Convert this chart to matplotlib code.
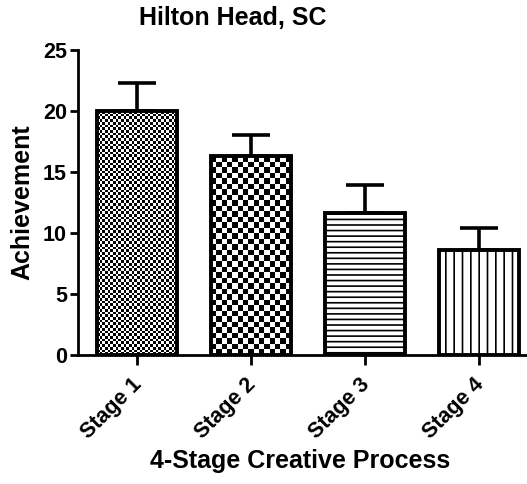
import numpy as np
import matplotlib
matplotlib.use("Agg")
import matplotlib.pyplot as plt
import matplotlib.transforms as mtransforms

categories = ["Stage 1", "Stage 2", "Stage 3", "Stage 4"]
means = [20.0, 16.3, 11.6, 8.6]
errors = [2.3, 1.7, 2.3, 1.8]
yticks = [0, 5, 10, 15, 20, 25]

plt.rcParams['font.family'] = ['Liberation Sans', 'DejaVu Sans']
plt.rcParams['font.weight'] = 'bold'
plt.rcParams['hatch.linewidth'] = 1.2

W, H = 527, 484
fig = plt.figure(figsize=(W / 100, H / 100), dpi=100)
ax = fig.add_axes([78 / W, 129 / H, 449 / W, 305 / H])

x = np.arange(len(categories))
bars = ax.bar(x, means, width=0.70, color='white', edgecolor='black',
              linewidth=2.8, zorder=2)
ax.errorbar(x, means, yerr=[np.zeros(len(errors)), errors], fmt='none',
            ecolor='black', elinewidth=2.6, capsize=14, capthick=2.6, zorder=1)

ax.set_xlim(-0.518, 3.42)
ax.set_ylim(0, 25)
ax.set_yticks(yticks)
ax.set_xticks(x)
ax.set_xticklabels(categories, rotation=45, ha='right', va='top',
                   rotation_mode='anchor', fontsize=15.5, fontweight='bold')
ax.tick_params(axis='x', length=7, width=2, pad=7)
ax.tick_params(axis='y', length=6, width=2, labelsize=15.5, pad=2)
shift = mtransforms.ScaledTranslation(-6 / 100, 0, fig.dpi_scale_trans)
for lab in ax.get_xticklabels():
    lab.set_transform(lab.get_transform() + shift)
for lab in ax.get_yticklabels():
    lab.set_fontweight('bold')
for s in ['top', 'right']:
    ax.spines[s].set_visible(False)
for s in ['left', 'bottom']:
    ax.spines[s].set_linewidth(2)

ax.set_ylabel('Achievement', fontsize=18, fontweight='bold', labelpad=6)
ax.set_xlabel('4-Stage Creative Process', fontsize=18, fontweight='bold')
ax.xaxis.set_label_coords((300 - 78) / 449, (355 - 449) / 305)
fig.text(233 / W, 1 - 18 / H, 'Hilton Head, SC', ha='center', va='center',
         fontsize=18, fontweight='bold')

# pattern fills
bars[2].set_hatch('---')
bars[3].set_hatch('||')

def checker(bar, cell_px):
    bar.set_facecolor('none')
    bx, by = bar.get_x(), bar.get_y()
    bw, bh = bar.get_width(), bar.get_height()
    p0 = ax.transData.transform((bx, by))
    p1 = ax.transData.transform((bx + bw, by + bh))
    nx = max(1, int(round(abs(p1[0] - p0[0]) / cell_px)))
    ny = max(1, int(round(abs(p1[1] - p0[1]) / cell_px)))
    arr = (np.add.outer(np.arange(ny), np.arange(nx)) % 2).astype(float)
    im = ax.imshow(arr, cmap='gray', vmin=0, vmax=1, interpolation='nearest',
                   extent=(bx, bx + bw, by, by + bh), aspect='auto', zorder=1.5)
    im.set_clip_path(bar)

checker(bars[0], 2.7)
checker(bars[1], 5.5)
ax.set_xlim(-0.518, 3.42)
ax.set_ylim(0, 25)

fig.savefig('out.png', dpi=100)
